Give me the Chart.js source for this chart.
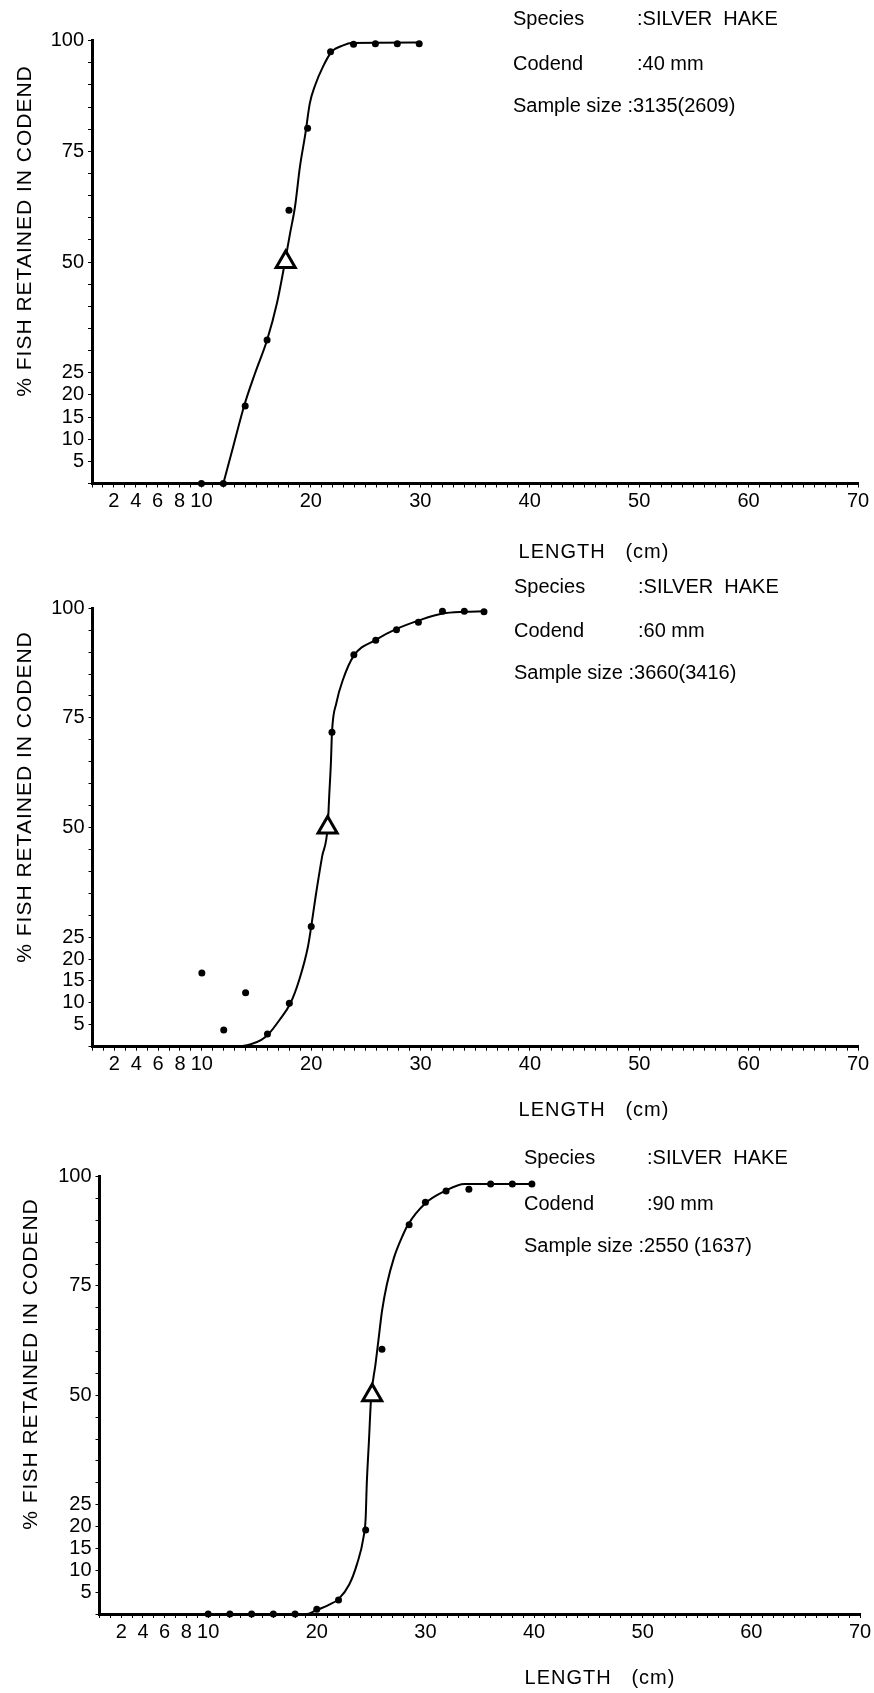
<!DOCTYPE html>
<html><head><meta charset="utf-8">
<script src="https://cdn.jsdelivr.net/npm/chart.js@4/dist/chart.umd.min.js"></script>
<style>
html,body{margin:0;padding:0;background:#fff;}
#wrap{position:relative;width:874px;height:1693px;background:#fff;}
canvas{position:absolute;left:0;}
</style></head><body>
<div id="wrap">
<canvas id="c1" width="874" height="565" style="top:0px"></canvas>
<canvas id="c2" width="874" height="565" style="top:565px"></canvas>
<canvas id="c3" width="874" height="563" style="top:1130px"></canvas>
</div>
<script>
// ---------- data ----------
const xTickLabels = [2, 4, 6, 8, 10, 20, 30, 40, 50, 60, 70];
const yTickLabels = [5, 10, 15, 20, 25, 50, 75, 100];
const yAxisTitle = '% FISH RETAINED IN CODEND';
const xAxisTitle = 'LENGTH   (cm)';
const speciesName = ':SILVER  HAKE';

// Codend 40 mm
const codend40 = ':40 mm';
const sample40 = ':3135(2609)';
const obs40Length = [10, 12, 14, 16, 18, 19.7, 21.8, 23.9, 25.9, 27.9, 29.9];
const obs40Pct    = [0, 0, 17.5, 32.4, 61.7, 80.2, 97.5, 99.2, 99.3, 99.3, 99.3];
const fit40Length = [12, 12.9, 13.9, 14.9, 16.0, 16.9, 17.55, 18.1, 18.55, 19.0, 19.5, 19.9, 20.4, 21.1, 21.9, 23.0, 23.7, 29.9];
const fit40Pct    = [0, 8.3, 17.5, 24.9, 32.4, 40.7, 48.9, 56.5, 62.5, 71.5, 79, 85.8, 90, 94.1, 97.5, 99, 99.5, 99.6];
const l50_40 = [17.7, 50];

// Codend 60 mm
const codend60 = ':60 mm';
const sample60 = ':3660(3416)';
const obs60Length = [10, 12, 14, 16, 18, 20, 21.9, 23.9, 25.9, 27.8, 29.8, 32, 34, 35.8];
const obs60Pct    = [16.8, 3.8, 12.3, 2.9, 9.9, 27.4, 71.7, 89.4, 92.7, 95.1, 96.8, 99.3, 99.3, 99.2];
const fit60Length = [13.4, 14.4, 15.4, 16.1, 17.1, 18.1, 18.9, 19.7, 20.0, 20.4, 21.0, 21.5, 21.66, 21.8, 21.9, 22.3, 22.9, 23.9, 25.9, 27.8, 29.8, 32.0, 34.0, 35.8];
const fit60Pct    = [0, 0.5, 1.5, 2.9, 6.1, 9.9, 15.2, 22.8, 27.4, 34.2, 43.4, 50, 57.9, 64.7, 71.7, 78.4, 83.7, 89.2, 92.8, 95.3, 97.2, 98.8, 99.2, 99.3];
const l50_60 = [21.5, 50];

// Codend 90 mm
const codend90 = ':90 mm';
const sample90 = ':2550 (1637)';
const obs90Length = [10, 12, 14, 16, 18, 20, 22, 24.5, 26, 28.5, 30, 31.9, 34, 36, 38, 39.8];
const obs90Pct    = [0, 0, 0, 0, 0, 1.1, 3.2, 19.2, 60.5, 89, 94.1, 96.7, 97.1, 98.3, 98.3, 98.3];
const fit90Length = [18, 19.1, 19.9, 21.1, 22.0, 23.0, 23.7, 24.3, 24.5, 24.6, 24.8, 25.0, 25.4, 25.7, 26.0, 26.45, 27.1, 27.8, 28.4, 30.0, 31.8, 33.6, 39.7];
const fit90Pct    = [0, 0, 0.8, 2.1, 3.4, 6.8, 11.4, 17.5, 22, 29.7, 39.5, 49.4, 57, 63.1, 69.2, 75.3, 81.4, 85.9, 89, 93.9, 96.7, 98.3, 98.3];
const l50_90 = [25.1, 50];

// ---------- rendering ----------
const FONT = '"Liberation Sans", Arial, sans-serif';
const xMinorTicks = Array.from({length: 71}, (_, i) => i);
const yMinorTicks = Array.from({length: 21}, (_, i) => i * 5);
function pts(xs, ys) { return xs.map((x, i) => ({x: x, y: ys[i]})); }

const annot = {
  id: 'annot',
  afterDraw(chart, args, o) {
    const ctx = chart.ctx;
    ctx.save();
    ctx.fillStyle = '#000';
    ctx.textBaseline = 'middle';
    ctx.textAlign = 'left';
    ctx.font = '20px ' + FONT;
    ctx.fillText('Species', o.labelX, o.rows[0]);
    ctx.fillText(speciesName, o.valueX, o.rows[0]);
    ctx.fillText('Codend', o.labelX, o.rows[1]);
    ctx.fillText(o.codend, o.valueX, o.rows[1]);
    ctx.fillText('Sample size ' + o.sample, o.labelX, o.rows[2]);
    ctx.textAlign = 'center';
    ctx.font = '20px ' + FONT;
    ctx.letterSpacing = '1px';
    ctx.fillText(xAxisTitle, o.xTitle[0], o.xTitle[1]);
    ctx.font = '21px ' + FONT;
    ctx.translate(o.yTitle[0], o.yTitle[1]);
    ctx.rotate(-Math.PI / 2);
    ctx.fillText(yAxisTitle, 0, 0);
    ctx.restore();
  }
};

function makeChart(id, d, L, A) {
  new Chart(document.getElementById(id), {
    type: 'scatter',
    data: { datasets: [
      { label: 'L50', data: [{x: d.l50[0], y: d.l50[1]}], pointStyle: 'triangle', pointRadius: 11,
        pointBorderWidth: 3, pointBorderColor: '#000', pointBackgroundColor: '#fff', showLine: false, clip: false, order: 0 },
      { label: 'observed', data: pts(d.obsX, d.obsY), pointStyle: 'circle', pointRadius: 3.5,
        pointBackgroundColor: '#000', pointBorderColor: '#000', pointBorderWidth: 0, showLine: false, clip: false, order: 1 },
      { label: 'fit', data: pts(d.fitX, d.fitY), showLine: true, borderColor: '#000', borderWidth: 2,
        pointRadius: 0, cubicInterpolationMode: 'monotone', fill: false, clip: false, order: 2 }
    ]},
    options: {
      responsive: false, animation: false, devicePixelRatio: 1,
      layout: { padding: { left: L.left - 60, right: 874 - L.right, top: L.top, bottom: L.h - L.bottom - 30 } },
      plugins: { legend: {display: false}, tooltip: {enabled: false}, annot: A },
      scales: {
        x: {
          type: 'linear', min: 0, max: 70,
          afterFit: s => { s.height = 30; s.paddingLeft = 0; s.paddingRight = 0; },
          afterBuildTicks: ax => { ax.ticks = xMinorTicks.map(v => ({value: v})); },
          ticks: { autoSkip: false, maxRotation: 0, minRotation: 0, padding: 2, color: '#000',
                   font: {family: FONT, size: 20},
                   callback: v => xTickLabels.includes(v) ? String(v) : '' },
          grid: { display: true, drawOnChartArea: false, drawTicks: true, tickLength: 4, color: '#000', lineWidth: 1 },
          border: { display: true, color: '#000', width: 3 }
        },
        y: {
          type: 'linear', min: 0, max: 100,
          afterFit: s => { s.width = 60; s.paddingTop = 0; s.paddingBottom = 0; },
          afterBuildTicks: ax => { ax.ticks = yMinorTicks.map(v => ({value: v})); },
          ticks: { autoSkip: false, padding: 4, color: '#000', font: {family: FONT, size: 20},
                   callback: v => yTickLabels.includes(v) ? String(v) : '' },
          grid: { display: true, drawOnChartArea: false, drawTicks: true, tickLength: 4, color: '#000', lineWidth: 1 },
          border: { display: true, color: '#000', width: 3 }
        }
      }
    },
    plugins: [annot]
  });
}

makeChart('c1',
  {obsX: obs40Length, obsY: obs40Pct, fitX: fit40Length, fitY: fit40Pct, l50: l50_40},
  {left: 92, right: 858, top: 40.7, bottom: 483.5, h: 565},
  {labelX: 513, valueX: 637, rows: [19.6, 64.3, 106], xTitle: [594, 552], yTitle: [25, 231], codend: codend40, sample: sample40});
makeChart('c2',
  {obsX: obs60Length, obsY: obs60Pct, fitX: fit60Length, fitY: fit60Pct, l50: l50_60},
  {left: 92.5, right: 858, top: 43.3, bottom: 481.7, h: 565},
  {labelX: 514, valueX: 638, rows: [22.5, 66.7, 108.5], xTitle: [594, 545], yTitle: [25, 232], codend: codend60, sample: sample60});
makeChart('c3',
  {obsX: obs90Length, obsY: obs90Pct, fitX: fit90Length, fitY: fit90Pct, l50: l50_90},
  {left: 99.5, right: 863, top: 46.5, bottom: 484, h: 563},
  {labelX: 524, valueX: 647, rows: [28.4, 74, 116], xTitle: [600, 548], yTitle: [31, 234], codend: codend90, sample: sample90});
</script>
</body></html>
